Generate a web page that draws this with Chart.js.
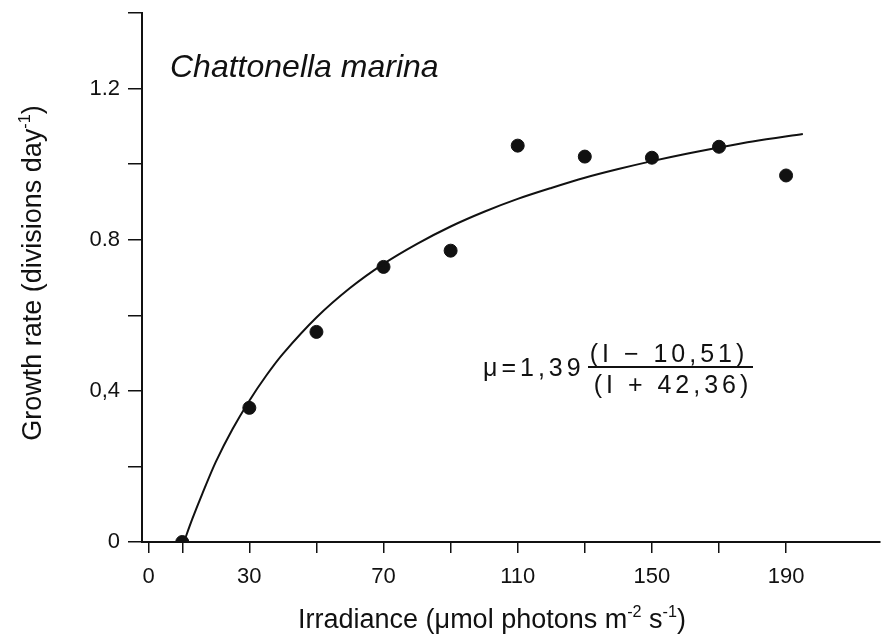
<!DOCTYPE html>
<html>
<head>
<meta charset="utf-8">
<script src="https://cdn.jsdelivr.net/npm/chart.js@4.4.1/dist/chart.umd.min.js"></script>
<style>
  html, body { margin: 0; padding: 0; background: #fff; }
  #wrap { width: 881px; height: 637px; }
</style>
</head>
<body>
<div id="wrap"><canvas id="myChart" width="881" height="637"></canvas></div>
<script>
// measured growth rates
const irradiance = [10, 30, 50, 70, 90, 110, 130, 150, 170, 190]
const growthRate = [0, 0.355, 0.556, 0.728, 0.771, 1.049, 1.020, 1.017, 1.046, 0.970]

// fitted curve
const curveX = [10.5, 13, 16, 20, 25, 30, 35, 40, 50, 60, 70, 80, 90, 100, 110, 120, 130, 140, 150, 160, 170, 180, 195]
const curveY = [0, 0.061, 0.128, 0.212, 0.299, 0.374, 0.440, 0.498, 0.594, 0.672, 0.736, 0.789, 0.835, 0.874, 0.908, 0.937, 0.964, 0.987, 1.008, 1.027, 1.044, 1.060, 1.080]

const xTicks = [0, 10, 30, 50, 70, 90, 110, 130, 150, 170, 190]
const xLabels = { 0: '0', 30: '30', 70: '70', 110: '110', 150: '150', 190: '190' }
const yLabels = { 0: '0', 4: '0,4', 8: '0.8', 12: '1.2' }

const FONT = "'Liberation Sans', Arial, sans-serif"

// draw a run of text with superscript parts
function drawRich(ctx, parts, x, y, size, align) {
    let total = 0
    parts.forEach(p => {
        ctx.font = (p.sup ? size * 0.6 : size) + 'px ' + FONT
        p.w = ctx.measureText(p.t).width
        total += p.w
    })
    let cx = align === 'center' ? x - total / 2 : x
    parts.forEach(p => {
        ctx.font = (p.sup ? size * 0.6 : size) + 'px ' + FONT
        ctx.fillText(p.t, cx, p.sup ? y - size * 0.42 : y)
        cx += p.w
    })
}

const textPlugin = {
    id: 'textos',
    afterDraw(chart) {
        const ctx = chart.ctx
        ctx.save()
        ctx.fillStyle = '#111'
        ctx.textAlign = 'left'
        ctx.textBaseline = 'alphabetic'

        // species name
        ctx.font = 'italic 32px ' + FONT
        ctx.fillText('Chattonella marina', 170, 77)

        // x title
        drawRich(ctx, [
            { t: 'Irradiance (\u03bcmol photons m' },
            { t: '-2', sup: true },
            { t: ' s' },
            { t: '-1', sup: true },
            { t: ')' }
        ], 492, 628, 27, 'center')

        // y title
        ctx.save()
        ctx.translate(41, 273)
        ctx.rotate(-Math.PI / 2)
        drawRich(ctx, [
            { t: 'Growth rate (divisions day' },
            { t: '-1', sup: true },
            { t: ')' }
        ], 0, 0, 27, 'center')
        ctx.restore()

        // equation
        ctx.letterSpacing = '4px'
        ctx.font = '25px ' + FONT
        ctx.textAlign = 'left'
        ctx.fillText('\u03bc=1,39', 483, 376)
        ctx.textAlign = 'center'
        ctx.fillText('(I \u2212 10,51)', 669, 362)
        ctx.fillText('(I + 42,36)', 673, 393)
        ctx.letterSpacing = '0px'
        ctx.strokeStyle = '#111'
        ctx.lineWidth = 2
        ctx.beginPath()
        ctx.moveTo(588, 367)
        ctx.lineTo(753, 367)
        ctx.stroke()
        ctx.restore()
    }
}

const ctx = document.getElementById('myChart').getContext('2d')
const myChart = new Chart(ctx, {
    type: 'scatter',
    data: {
        datasets: [{
            label: 'Ajuste',
            data: curveX.map((x, i) => ({ x: x, y: curveY[i] })),
            showLine: true,
            borderColor: '#111',
            borderWidth: 2,
            pointRadius: 0,
            tension: 0.3
        }, {
            label: 'Medidas',
            data: irradiance.map((x, i) => ({ x: x, y: growthRate[i] })),
            backgroundColor: '#111',
            borderColor: '#111',
            pointRadius: 6.5,
            pointHoverRadius: 6.5
        }]
    },
    options: {
        responsive: false,
        animation: false,
        layout: { autoPadding: false, padding: { top: 13, right: 1, left: 0, bottom: 0 } },
        plugins: {
            legend: { display: false },
            tooltip: { enabled: false }
        },
        scales: {
            x: {
                type: 'linear',
                min: -2,
                max: 218,
                afterBuildTicks: scale => {
                    scale.ticks = xTicks.map(v => ({ value: v }))
                },
                afterFit: scale => {
                    scale.height = 95
                    scale.paddingLeft = 0
                    scale.paddingRight = 0
                },
                ticks: {
                    autoSkip: false,
                    maxRotation: 0,
                    padding: 11,
                    color: '#111',
                    font: { family: FONT, size: 22 },
                    callback: v => xLabels[v] !== undefined ? xLabels[v] : ''
                },
                grid: {
                    drawOnChartArea: false,
                    color: '#111',
                    lineWidth: 1.5,
                    tickLength: 11
                },
                border: { color: '#111', width: 2 }
            },
            y: {
                min: 0,
                max: 1.4,
                afterFit: scale => {
                    scale.width = 142
                    scale.paddingTop = 0
                    scale.paddingBottom = 0
                },
                ticks: {
                    stepSize: 0.2,
                    padding: 8,
                    color: '#111',
                    font: { family: FONT, size: 22 },
                    callback: v => {
                        const k = Math.round(v * 10)
                        return yLabels[k] !== undefined ? yLabels[k] : ''
                    }
                },
                grid: {
                    drawOnChartArea: false,
                    color: '#111',
                    lineWidth: 1.5,
                    tickLength: 14
                },
                border: { color: '#111', width: 2 }
            }
        }
    },
    plugins: [textPlugin]
})
</script>
</body>
</html>
